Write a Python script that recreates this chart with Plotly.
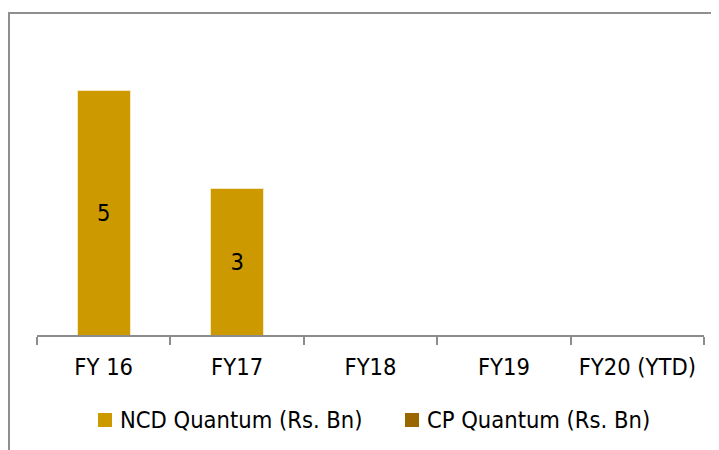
import plotly.graph_objects as go

categories = ["FY 16", "FY17", "FY18", "FY19", "FY20 (YTD)"]
ncd_values = [5, 3, None, None, None]
cp_values = [None, None, None, None, None]
series_names = ["NCD Quantum (Rs. Bn)", "CP Quantum (Rs. Bn)"]
series_colors = ["#CC9900", "#996600"]

W, H = 719, 450
OFF = 8  # page body margin
# plot area in screen pixels: x 37..704, y 42..335
ML = 37 - OFF
MR = W - (704 - OFF)
MT = 42 - OFF
MB = H - (335 - OFF)
PW, PH = W - ML - MR, H - MT - MB
FONT = "DejaVu Sans Condensed, DejaVu Sans, sans-serif"
FS = 23.5


def px(x):
    return (x - OFF - ML) / PW


def py(y):
    return (H - MB - (y - OFF)) / PH


fig = go.Figure()
fig.add_trace(go.Bar(
    x=categories, y=ncd_values, name=series_names[0],
    marker=dict(color=series_colors[0], line=dict(color="#F6E7BE", width=1)),
    text=[str(v) if v is not None else "" for v in ncd_values],
    textposition="inside", insidetextanchor="middle",
    textfont=dict(family=FONT, size=FS, color="#000000"),
    showlegend=False,
))
fig.add_trace(go.Bar(
    x=categories, y=cp_values, name=series_names[1],
    marker=dict(color=series_colors[1], line=dict(width=0)),
    showlegend=False,
))

shapes = [
    dict(type="rect", xref="paper", yref="paper",
         x0=px(9), x1=px(W + 40), y0=py(H + 40), y1=py(13),
         line=dict(color="#8F8F8F", width=2), fillcolor="rgba(0,0,0,0)", layer="below"),
]
annotations = []
legend_items = [(98, 118), (405, 425)]
for (sx, tx), name, color in zip(legend_items, series_names, series_colors):
    shapes.append(dict(type="rect", xref="paper", yref="paper",
                       x0=px(sx), x1=px(sx + 14), y0=py(427), y1=py(413),
                       line=dict(width=0), fillcolor=color))
    annotations.append(dict(xref="paper", yref="paper", x=px(tx), y=py(420),
                            text=name, showarrow=False, xanchor="left", yanchor="middle",
                            font=dict(family=FONT, size=FS, color="#000000")))

fig.update_layout(
    width=W, height=H,
    margin=dict(l=ML, r=MR, t=MT, b=MB),
    paper_bgcolor="white", plot_bgcolor="white",
    barmode="stack", bargap=0.6,
    shapes=shapes, annotations=annotations,
    font=dict(family=FONT, size=FS, color="#000000"),
    xaxis=dict(showline=True, linecolor="#8C8C8C", linewidth=2,
               ticks="outside", tickson="boundaries", ticklen=8, tickwidth=2,
               tickcolor="#8C8C8C", showgrid=False, zeroline=False,
               ticklabelstandoff=10,
               tickfont=dict(family=FONT, size=FS, color="#000000")),
    yaxis=dict(range=[0, 6], visible=False, showgrid=False, zeroline=False),
)

fig.write_html("out.html")
